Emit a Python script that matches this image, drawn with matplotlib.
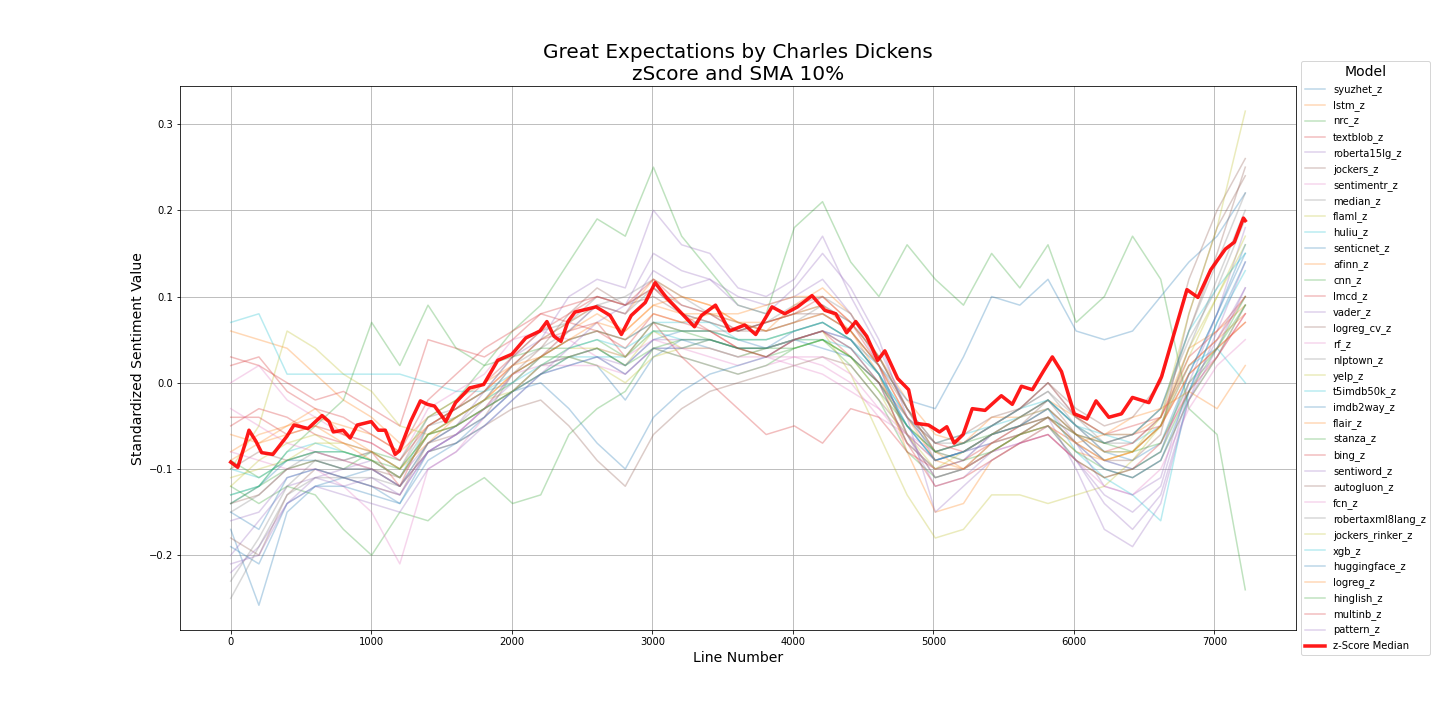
import matplotlib
matplotlib.use("Agg")
import matplotlib.pyplot as plt
import numpy as np

# model names, in legend order
modelNames = ['syuzhet_z', 'lstm_z', 'nrc_z', 'textblob_z', 'roberta15lg_z', 'jockers_z',
              'sentimentr_z', 'median_z', 'flaml_z', 'huliu_z', 'senticnet_z', 'afinn_z',
              'cnn_z', 'lmcd_z', 'vader_z', 'logreg_cv_z', 'rf_z', 'nlptown_z', 'yelp_z',
              't5imdb50k_z', 'imdb2way_z', 'flair_z', 'stanza_z', 'bing_z', 'sentiword_z',
              'autogluon_z', 'fcn_z', 'robertaxml8lang_z', 'jockers_rinker_z', 'xgb_z',
              'huggingface_z', 'logreg_z', 'hinglish_z', 'multinb_z', 'pattern_z']

lineNumbers = np.linspace(0, 7220, 37)

modelValues = [
    [-0.17,-0.258,-0.15,-0.12,-0.11,-0.10,-0.12,-0.08,-0.07,-0.04, -0.01,0.01,0.03,0.02,-0.02,0.03,0.05,0.04,0.03,0.04, 0.05,0.06,0.04,0.00,-0.07,-0.10,-0.09,-0.06,-0.04,-0.02, -0.05,-0.08,-0.09,-0.07,0.01,0.08,0.15],
    [0.06,0.05,0.04,0.01,-0.02,-0.04,-0.07,-0.04,-0.02,0.00, 0.02,0.05,0.07,0.09,0.08,0.12,0.10,0.09,0.07,0.06, 0.09,0.11,0.08,0.03,-0.02,-0.06,-0.07,-0.04,-0.04,-0.02, -0.04,-0.06,-0.06,-0.04,0.04,0.06,0.09],
    [-0.13,-0.12,-0.10,-0.09,-0.10,-0.08,-0.09,-0.04,-0.02,0.02, 0.06,0.09,0.14,0.19,0.17,0.25,0.17,0.13,0.09,0.08, 0.18,0.21,0.14,0.10,0.16,0.12,0.09,0.15,0.11,0.16, 0.07,0.10,0.17,0.12,-0.03,-0.06,-0.24],
    [0.03,0.02,0.00,-0.02,-0.01,-0.03,-0.05,0.05,0.04,0.03, 0.05,0.08,0.07,0.06,0.04,0.08,0.07,0.06,0.04,0.03, 0.05,0.06,0.03,0.00,-0.04,-0.08,-0.07,-0.05,-0.03,0.00, -0.04,-0.06,-0.05,-0.04,0.02,0.05,0.10],
    [-0.20,-0.16,-0.12,-0.11,-0.10,-0.09,-0.11,-0.07,-0.05,-0.01, 0.03,0.05,0.10,0.12,0.11,0.20,0.16,0.15,0.11,0.10, 0.12,0.17,0.10,0.04,-0.03,-0.09,-0.08,-0.06,-0.04,-0.03, -0.07,-0.12,-0.13,-0.11,0.00,0.08,0.18],
    [-0.18,-0.20,-0.13,-0.10,-0.11,-0.12,-0.13,-0.07,-0.06,-0.04, 0.01,0.04,0.08,0.11,0.09,0.10,0.08,0.07,0.06,0.07, 0.08,0.08,0.06,0.02,-0.06,-0.11,-0.10,-0.07,-0.05,-0.02, -0.06,-0.09,-0.09,-0.06,0.08,0.18,0.24],
    [0.00,0.02,-0.02,-0.04,-0.06,-0.07,-0.09,-0.03,-0.01,0.01, 0.05,0.06,0.05,0.03,0.01,0.04,0.03,0.02,0.01,0.02, 0.03,0.02,0.00,-0.04,-0.06,-0.08,-0.09,-0.06,-0.05,-0.04, -0.07,-0.10,-0.11,-0.09,-0.02,0.03,0.09],
    [-0.15,-0.13,-0.10,-0.08,-0.09,-0.08,-0.10,-0.04,-0.03,-0.01, 0.03,0.06,0.07,0.09,0.08,0.11,0.09,0.08,0.06,0.07, 0.08,0.09,0.07,0.03,-0.03,-0.07,-0.07,-0.05,-0.03,0.00, -0.04,-0.06,-0.06,-0.03,0.05,0.11,0.19],
    [-0.10,-0.05,0.06,0.04,0.01,-0.01,-0.05,-0.06,-0.04,-0.02, -0.01,0.02,0.03,0.04,0.02,0.06,0.04,0.04,0.03,0.04, 0.05,0.05,0.03,-0.01,-0.07,-0.10,-0.10,-0.08,-0.06,-0.04, -0.07,-0.09,-0.08,-0.05,0.03,0.10,0.17],
    [0.07,0.08,0.01,0.01,0.01,0.01,0.01,0.00,-0.01,-0.01, 0.00,0.03,0.03,0.03,0.03,0.06,0.05,0.05,0.04,0.04, 0.05,0.05,0.04,0.01,-0.04,-0.07,-0.06,-0.05,-0.04,-0.02, -0.05,-0.06,-0.07,-0.05,0.02,0.04,0.00],
    [-0.14,-0.12,-0.09,-0.09,-0.10,-0.10,-0.12,-0.07,-0.05,-0.03, -0.01,0.02,0.03,0.04,0.02,0.05,0.06,0.06,0.05,0.04, 0.05,0.06,0.05,0.02,-0.02,-0.03,0.03,0.10,0.09,0.12, 0.06,0.05,0.06,0.10,0.14,0.17,0.22],
    [-0.08,-0.06,-0.05,-0.03,-0.06,-0.08,-0.10,-0.07,-0.04,-0.02, 0.01,0.03,0.06,0.08,0.06,0.09,0.10,0.09,0.07,0.07, 0.08,0.09,0.06,0.01,-0.08,-0.15,-0.14,-0.09,-0.07,-0.05, -0.08,-0.09,-0.08,-0.05,0.02,0.05,0.08],
    [-0.12,-0.14,-0.12,-0.13,-0.17,-0.20,-0.15,-0.16,-0.13,-0.11, -0.14,-0.13,-0.06,-0.03,-0.01,0.04,0.03,0.02,0.01,0.02, 0.04,0.05,0.02,-0.02,-0.08,-0.11,-0.10,-0.08,-0.06,-0.05, -0.08,-0.10,-0.11,-0.09,-0.02,0.03,0.09],
    [-0.05,-0.03,-0.04,-0.06,-0.07,-0.08,-0.12,-0.05,-0.03,-0.01, 0.02,0.05,0.06,0.07,0.03,0.07,0.03,0.00,-0.03,-0.06, -0.05,-0.07,-0.03,-0.04,-0.08,-0.10,-0.09,-0.07,-0.05,-0.04, -0.06,-0.07,-0.06,-0.05,0.01,0.04,0.07],
    [-0.22,-0.19,-0.14,-0.11,-0.12,-0.11,-0.13,-0.08,-0.06,-0.03, 0.00,0.03,0.06,0.09,0.08,0.13,0.11,0.12,0.10,0.09, 0.10,0.12,0.08,0.02,-0.06,-0.12,-0.11,-0.08,-0.06,-0.04, -0.10,-0.17,-0.19,-0.14,-0.02,0.06,0.14],
    [-0.10,-0.08,-0.09,-0.08,-0.09,-0.10,-0.12,-0.08,-0.07,-0.05, -0.03,-0.02,-0.05,-0.09,-0.12,-0.06,-0.03,-0.01,0.00,0.01, 0.02,0.03,0.02,-0.02,-0.06,-0.09,-0.08,-0.06,-0.04,-0.02, -0.05,-0.07,-0.06,-0.03,0.06,0.15,0.25],
    [-0.08,-0.09,-0.10,-0.10,-0.12,-0.15,-0.21,-0.10,-0.08,-0.04, -0.01,0.02,0.03,0.04,0.03,0.05,0.04,0.03,0.02,0.03, 0.02,0.01,-0.01,-0.03,-0.06,-0.09,-0.08,-0.07,-0.06,-0.05, -0.07,-0.09,-0.10,-0.08,0.00,0.03,0.08],
    [-0.23,-0.18,-0.12,-0.09,-0.09,-0.08,-0.10,-0.05,-0.04,-0.02, 0.02,0.04,0.06,0.09,0.10,0.12,0.10,0.08,0.07,0.06, 0.07,0.09,0.07,0.03,-0.03,-0.08,-0.07,-0.05,-0.03,-0.01, -0.04,-0.07,-0.07,-0.04,0.06,0.14,0.22],
    [-0.11,-0.10,-0.09,-0.07,-0.07,-0.08,-0.10,-0.06,-0.04,-0.02, 0.00,0.03,0.03,0.02,0.00,0.03,0.04,0.05,0.04,0.04, 0.05,0.06,0.01,-0.06,-0.13,-0.18,-0.17,-0.13,-0.13,-0.14, -0.13,-0.12,-0.09,-0.05,0.04,0.10,0.16],
    [-0.13,-0.12,-0.08,-0.07,-0.08,-0.09,-0.11,-0.05,-0.03,-0.01, 0.01,0.03,0.05,0.06,0.05,0.07,0.07,0.07,0.05,0.05, 0.06,0.07,0.05,0.01,-0.04,-0.08,-0.07,-0.05,-0.03,-0.02, -0.05,-0.07,-0.06,-0.03,0.06,0.11,0.15],
    [-0.19,-0.21,-0.14,-0.12,-0.12,-0.13,-0.14,-0.08,-0.06,-0.04, -0.01,0.00,-0.03,-0.07,-0.10,-0.04,-0.01,0.01,0.02,0.03, 0.05,0.04,0.03,0.00,-0.05,-0.09,-0.08,-0.06,-0.05,-0.03, -0.06,-0.09,-0.10,-0.08,0.01,0.08,0.16],
    [-0.09,-0.07,-0.05,-0.04,-0.05,-0.06,-0.08,-0.05,-0.03,-0.01, 0.02,0.03,0.05,0.06,0.05,0.08,0.07,0.08,0.08,0.09, 0.10,0.10,0.07,0.03,-0.03,-0.08,-0.10,-0.08,-0.06,-0.05, -0.07,-0.06,-0.04,-0.03,-0.01,-0.03,0.02],
    [-0.14,-0.12,-0.08,-0.05,-0.02,0.07,0.02,0.09,0.04,0.02, 0.03,0.04,0.04,0.05,0.03,0.07,0.06,0.05,0.04,0.03, 0.04,0.05,0.03,0.00,-0.05,-0.08,-0.07,-0.06,-0.05,-0.04, -0.06,-0.07,-0.08,-0.07,0.00,0.04,0.09],
    [-0.04,-0.04,-0.06,-0.05,-0.06,-0.07,-0.09,-0.05,-0.03,0.00, 0.03,0.06,0.08,0.10,0.09,0.12,0.09,0.08,0.06,0.07, 0.08,0.10,0.07,0.02,-0.04,-0.07,-0.08,-0.06,-0.05,-0.03, -0.06,-0.08,-0.07,-0.04,0.03,0.06,0.10],
    [-0.16,-0.15,-0.11,-0.10,-0.11,-0.12,-0.13,-0.08,-0.06,-0.03, -0.01,0.01,0.02,0.03,0.02,0.05,0.05,0.05,0.04,0.04, 0.05,0.06,0.05,0.01,-0.06,-0.11,-0.10,-0.08,-0.07,-0.06, -0.09,-0.13,-0.15,-0.12,-0.01,0.05,0.11],
    [-0.14,-0.13,-0.10,-0.09,-0.10,-0.10,-0.11,-0.06,-0.05,-0.03, 0.01,0.03,0.05,0.06,0.05,0.07,0.06,0.06,0.06,0.06, 0.07,0.08,0.06,0.02,-0.03,-0.07,-0.06,-0.04,-0.03,0.00, -0.03,-0.05,-0.04,0.00,0.12,0.20,0.26],
    [-0.03,-0.05,-0.07,-0.08,-0.09,-0.10,-0.12,-0.08,-0.06,-0.03, 0.01,0.02,0.02,0.02,0.01,0.04,0.04,0.04,0.03,0.03, 0.03,0.03,0.01,-0.03,-0.07,-0.10,-0.10,-0.08,-0.07,-0.06, -0.09,-0.12,-0.13,-0.10,-0.03,0.02,0.05],
    [-0.25,-0.19,-0.13,-0.11,-0.11,-0.11,-0.12,-0.07,-0.05,-0.02, 0.02,0.05,0.07,0.10,0.09,0.11,0.08,0.07,0.06,0.07, 0.09,0.10,0.08,0.03,-0.03,-0.08,-0.07,-0.05,-0.03,-0.01, -0.05,-0.08,-0.08,-0.05,0.04,0.12,0.20],
    [-0.12,-0.09,-0.07,-0.06,-0.08,-0.09,-0.11,-0.06,-0.05,-0.03, -0.01,0.02,0.04,0.04,0.03,0.06,0.06,0.06,0.05,0.05, 0.06,0.07,0.05,0.01,-0.06,-0.10,-0.08,-0.06,-0.04,-0.03, -0.06,-0.08,-0.08,-0.04,0.08,0.18,0.315],
    [-0.10,-0.11,-0.09,-0.08,-0.08,-0.09,-0.11,-0.06,-0.04,-0.02, 0.00,0.02,0.04,0.05,0.04,0.06,0.06,0.06,0.05,0.05, 0.06,0.07,0.05,0.01,-0.05,-0.09,-0.08,-0.06,-0.05,-0.03, -0.08,-0.11,-0.13,-0.16,-0.01,0.07,0.13],
    [-0.15,-0.17,-0.11,-0.10,-0.11,-0.12,-0.14,-0.09,-0.07,-0.05, -0.02,0.01,0.02,0.03,0.01,0.04,0.04,0.05,0.04,0.04, 0.06,0.07,0.05,0.01,-0.05,-0.09,-0.08,-0.07,-0.06,-0.04, -0.07,-0.10,-0.11,-0.09,-0.01,0.07,0.14],
    [-0.06,-0.07,-0.06,-0.05,-0.07,-0.09,-0.11,-0.06,-0.04,-0.02, 0.01,0.03,0.05,0.07,0.06,0.09,0.08,0.08,0.07,0.06, 0.07,0.08,0.06,0.02,-0.04,-0.09,-0.10,-0.07,-0.06,-0.04, -0.07,-0.09,-0.08,-0.05,0.01,0.04,0.07],
    [-0.09,-0.11,-0.09,-0.08,-0.08,-0.09,-0.10,-0.06,-0.05,-0.03, -0.01,0.01,0.03,0.04,0.02,0.04,0.05,0.05,0.04,0.04, 0.04,0.05,0.03,-0.01,-0.05,-0.08,-0.09,-0.08,-0.06,-0.05, -0.09,-0.11,-0.10,-0.08,-0.01,0.04,0.10],
    [0.02,0.03,-0.01,-0.03,-0.04,-0.06,-0.08,-0.02,0.01,0.04, 0.06,0.08,0.09,0.10,0.09,0.11,0.08,0.06,0.04,0.03, 0.05,0.06,0.04,0.00,-0.07,-0.12,-0.11,-0.09,-0.07,-0.06, -0.09,-0.11,-0.10,-0.07,-0.01,0.03,0.08],
    [-0.21,-0.20,-0.14,-0.12,-0.13,-0.14,-0.15,-0.10,-0.08,-0.05, -0.02,0.01,0.04,0.07,0.09,0.15,0.13,0.12,0.09,0.08, 0.11,0.15,0.11,0.05,-0.04,-0.15,-0.12,-0.09,-0.07,-0.05, -0.09,-0.14,-0.17,-0.13,-0.02,0.04,0.11],
]

# z-score median, read more densely
medianX = [0, 50, 100, 130, 180, 220, 300, 400, 450, 550, 650, 700, 730, 800, 850, 900, 1000,
           1050, 1100, 1170, 1200, 1280, 1350, 1400, 1450, 1500, 1530, 1600, 1700, 1800, 1900,
           2000, 2100, 2200, 2250, 2300, 2350, 2400, 2450, 2500, 2600, 2700, 2780, 2850, 2950,
           3020, 3100, 3200, 3300, 3350, 3450, 3550, 3658, 3736, 3852, 3943, 4034, 4137, 4228,
           4306, 4383, 4448, 4526, 4604, 4655, 4746, 4824, 4876, 4966, 5044, 5096, 5148, 5212,
           5277, 5368, 5484, 5562, 5627, 5705, 5782, 5847, 5912, 6003, 6093, 6158, 6249, 6339,
           6417, 6534, 6624, 6715, 6805, 6883, 6974, 7078, 7142, 7207, 7220]
medianY = [-0.092, -0.098, -0.072, -0.055, -0.068, -0.081, -0.083, -0.062, -0.049, -0.053,
           -0.038, -0.045, -0.057, -0.055, -0.064, -0.049, -0.045, -0.055, -0.055, -0.083,
           -0.079, -0.045, -0.021, -0.025, -0.027, -0.038, -0.045, -0.023, -0.006, -0.002,
           0.026, 0.033, 0.052, 0.060, 0.071, 0.054, 0.048, 0.071, 0.082, 0.084, 0.088, 0.078,
           0.056, 0.078, 0.093, 0.116, 0.099, 0.082, 0.065, 0.078, 0.090, 0.060, 0.067, 0.056,
           0.088, 0.080, 0.088, 0.101, 0.084, 0.080, 0.058, 0.071, 0.054, 0.026, 0.037, 0.005,
           -0.008, -0.047, -0.049, -0.057, -0.051, -0.070, -0.060, -0.030, -0.032, -0.015,
           -0.025, -0.004, -0.008, 0.013, 0.030, 0.013, -0.036, -0.042, -0.021, -0.040, -0.036,
           -0.017, -0.023, 0.007, 0.058, 0.108, 0.099, 0.131, 0.155, 0.163, 0.191, 0.188]

fig, ax = plt.subplots(figsize=(20, 10), dpi=72)
fig.subplots_adjust(bottom=0.125)

for nom, valeurs in zip(modelNames, modelValues):
    ax.plot(lineNumbers, valeurs, alpha=0.3, linewidth=1.5, label=nom)

ax.plot(medianX, medianY, color='red', linewidth=3.5, alpha=0.9, label='z-Score Median')

ax.set_title('Great Expectations by Charles Dickens\nzScore and SMA 10%', fontsize=20)
ax.set_xlabel('Line Number', fontsize=14)
ax.set_ylabel('Standardized Sentiment Value', fontsize=14)
ax.grid(True)
ax.legend(title='Model', loc='center left', bbox_to_anchor=(1, 0.5), fontsize=10,
          title_fontsize=14)

fig.savefig('out.png')
